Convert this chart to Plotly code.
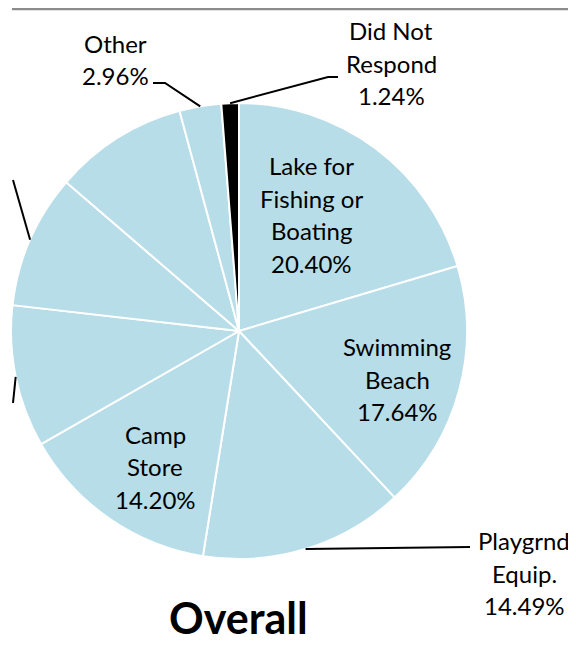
import math
import plotly.graph_objects as go

# ---- data ----
labels = ["Lake for Fishing or Boating", "Swimming Beach", "Playgrnd Equip.", "Camp Store",
          "Not shown A", "Not shown B", "Not shown C", "Other", "Did Not Respond"]
values = [20.40, 17.64, 14.49, 14.20, 10.08, 9.50, 9.49, 2.96, 1.24]
label_lines = {
    "Lake for Fishing or Boating": ["Lake for", "Fishing or", "Boating"],
    "Swimming Beach": ["Swimming", "Beach"],
    "Playgrnd Equip.": ["Playgrnd", "Equip."],
    "Camp Store": ["Camp", "Store"],
    "Other": ["Other"],
    "Did Not Respond": ["Did Not", "Respond"],
}
title_text = "Overall"

# ---- layout geometry (page pixels; page body has an 8px margin) ----
OFF = 8
PAGE_W, PAGE_H = 576, 647
W, H = PAGE_W - OFF, PAGE_H - OFF
dom_l, dom_r, dom_t, dom_b = 11, 467, 103, 559
cx, cy = (dom_l + dom_r) / 2, (dom_t + dom_b) / 2
R = (dom_r - dom_l) / 2

LIGHT = "#B7DDE8"
colors = [LIGHT] * (len(values) - 1) + ["#000000"]
FONT = "Lato"
LINE_H = 32.5

def px(x, y):
    return (x - OFF) / W, 1 - (y - OFF) / H

total = sum(values)
mids = []
acc = 0.0
for v in values:
    mids.append((acc + v / 2) / total * 2 * math.pi)
    acc += v

def edge(i):
    t = mids[i]
    return cx + R * math.sin(t), cy - R * math.cos(t)

dx0, dy1 = px(dom_l, dom_t)
dx1, dy0 = px(dom_r, dom_b)
fig = go.Figure(go.Pie(
    labels=labels, values=values, sort=False, direction="clockwise", rotation=0,
    marker=dict(colors=colors, line=dict(color="white", width=2)),
    textinfo="none", hoverinfo="label+percent", showlegend=False,
    domain=dict(x=[dx0, dx1], y=[dy0, dy1]),
))

# label positions (page pixel centres)
label_pos = {
    "Lake for Fishing or Boating": (311, 214.5),
    "Swimming Beach": (397, 379),
    "Camp Store": (155, 466.5),
    "Playgrnd Equip.": (524, 573),
    "Other": (115, 59.5),
    "Did Not Respond": (391, 63),
}
annotations = []
for name, v in zip(labels, values):
    if name not in label_pos:
        continue
    x, y = label_pos[name]
    lines = label_lines[name] + [f"{v:.2f}%"]
    n = len(lines)
    for k, ln in enumerate(lines):
        yy = y + (k - (n - 1) / 2) * LINE_H
        xp, yp = px(x, yy)
        annotations.append(dict(x=xp, y=yp, xref="paper", yref="paper", text=ln, showarrow=False,
                                xanchor="center", yanchor="middle", align="center",
                                font=dict(family=FONT, size=24, color="black")))

tx, ty = px(238, 617)
annotations.append(dict(x=tx, y=ty, xref="paper", yref="paper", text=f"<b>{title_text}</b>",
                        showarrow=False, xanchor="center", yanchor="middle",
                        font=dict(family=FONT, size=43, color="black")))

# leader lines: slice edge -> label side
leaders = {
    2: [(470, 547)],
    7: [(165, 83), (153, 83)],
    8: [(328, 77), (338, 77)],
    5: [(13, 180)],
    4: [(13, 403)],
}
shapes = []
for i, pts in leaders.items():
    ex, ey = edge(i)
    seq = [(ex, ey)] + pts
    path = "M " + " L ".join(f"{px(a, b)[0]:.5f},{px(a, b)[1]:.5f}" for a, b in seq)
    shapes.append(dict(type="path", xref="paper", yref="paper", path=path,
                       line=dict(color="black", width=2)))

# top border line
x0, y0 = px(12, 9)
x1, _ = px(PAGE_W, 9)
shapes.append(dict(type="line", xref="paper", yref="paper", x0=x0, x1=x1, y0=y0, y1=y0,
                   line=dict(color="#8C8C8C", width=2.5)))

fig.update_layout(width=W, height=H, margin=dict(l=0, r=0, t=0, b=0),
                  paper_bgcolor="white", plot_bgcolor="white",
                  annotations=annotations, shapes=shapes)
fig.write_html("out.html")
